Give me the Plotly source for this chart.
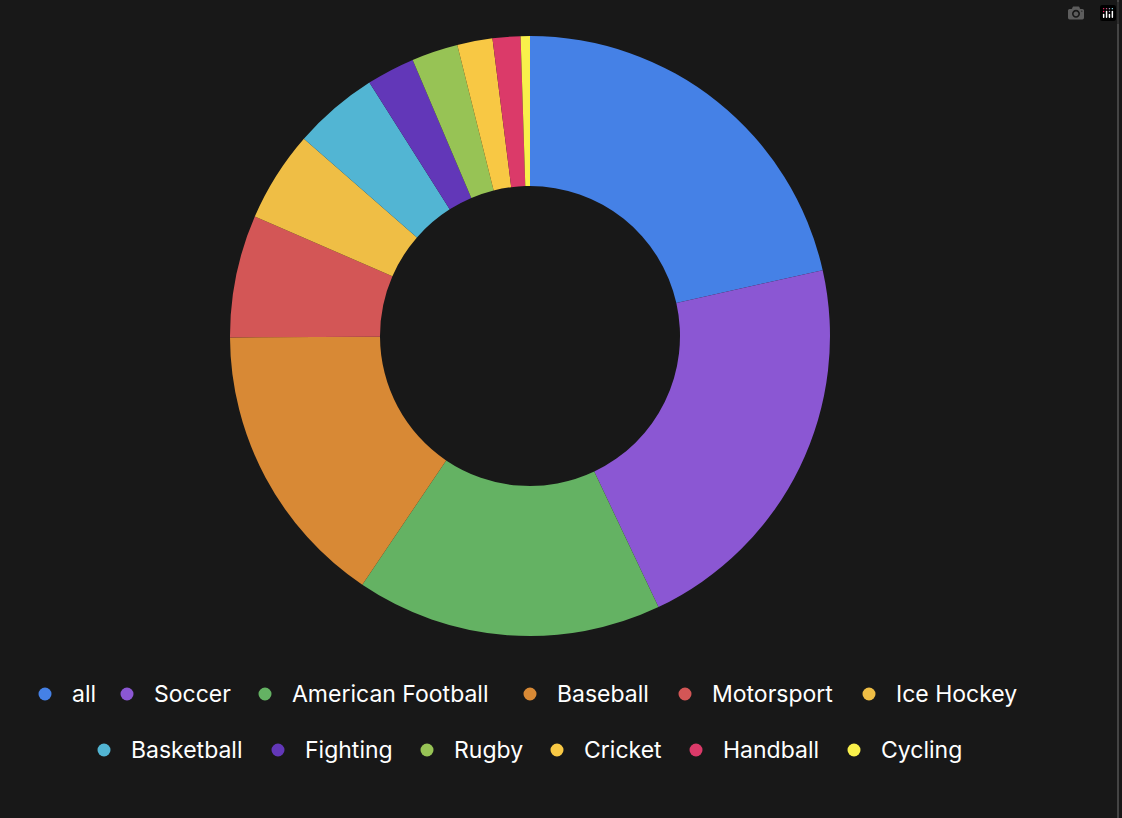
import plotly.graph_objects as go

labels = ["all", "Soccer", "American Football", "Baseball", "Motorsport", "Ice Hockey",
          "Basketball", "Fighting", "Rugby", "Cricket", "Handball", "Cycling"]
values = [21.5, 21.5, 16.5, 15.5, 6.6, 4.9, 4.6, 2.6, 2.5, 1.9, 1.5, 0.5]
colors = ["#4581E6", "#8B57D3", "#64B263", "#D88935", "#D35656", "#EFBE45",
          "#52B5D3", "#6237B8", "#97C355", "#F8C844", "#DB3A69", "#F9F04B"]

W, H = 1122, 818
fig = go.Figure(go.Pie(
    labels=labels, values=values, hole=0.5, sort=False, direction="clockwise", rotation=0,
    marker=dict(colors=colors, line=dict(width=0)), textinfo="none", showlegend=False,
    domain=dict(x=[230 / W, 830 / W], y=[1 - 636 / H, 1 - 36 / H]),
))

# custom legend layout (two centered rows)
dot_x = [45, 127, 265, 530, 685, 869, 104, 278, 427, 557, 696, 854]
row_y = [694] * 6 + [750] * 6
anns = []
shapes = []
for lab, col, x, y in zip(labels, colors, dot_x, row_y):
    r = 6.5
    shapes.append(dict(type="circle", xref="paper", yref="paper",
                       x0=(x - r) / W, x1=(x + r) / W, y0=1 - (y + r) / H, y1=1 - (y - r) / H,
                       fillcolor=col, line=dict(width=0)))
    anns.append(dict(text=lab, xref="paper", yref="paper", x=(x + 25) / W, y=1 - y / H,
                     xanchor="left", yanchor="middle", showarrow=False,
                     font=dict(size=23, color="#ffffff", family="Inter")))
shapes.append(dict(type="line", xref="paper", yref="paper", x0=1118 / W, x1=1118 / W, y0=0, y1=1,
                   line=dict(color="#444444", width=2)))

fig.update_layout(
    width=W, height=H, paper_bgcolor="#181818", plot_bgcolor="#181818",
    margin=dict(l=0, r=0, t=0, b=0),
    font=dict(family="Inter", color="#ffffff", size=22),
    annotations=anns, shapes=shapes,
)
fig.write_html("out.html", post_script="document.body.style.margin='0';document.body.style.background='#181818';")
